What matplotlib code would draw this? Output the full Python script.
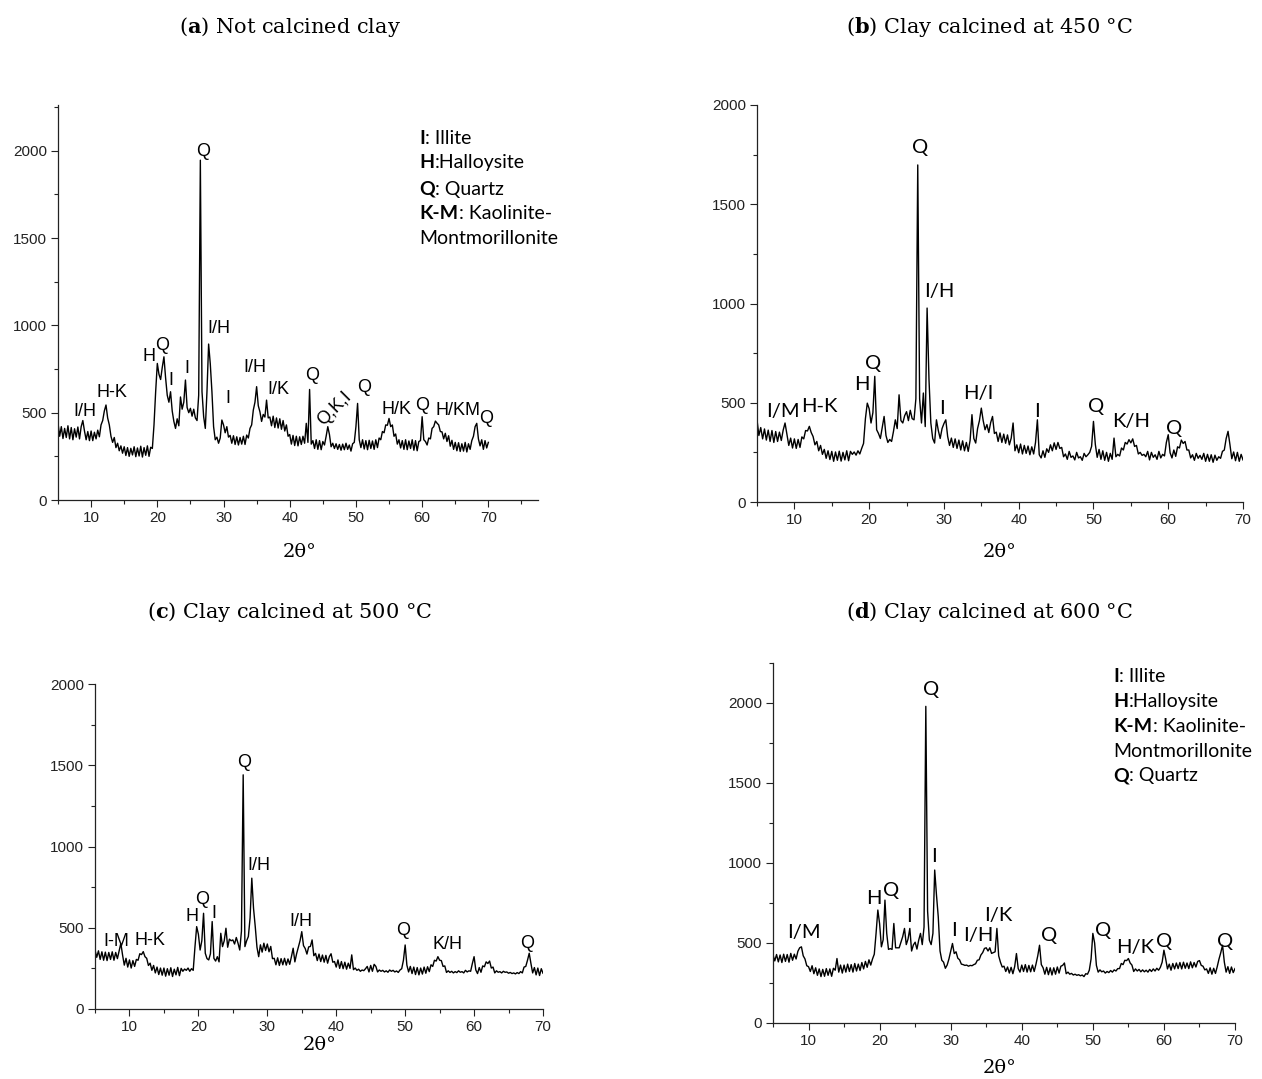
#!/usr/bin/env python3
"""XRD patterns of the clay, raw and calcined at 450/500/600 C (2x2 panels)."""
import numpy as np
import matplotlib
matplotlib.use("Agg")
import matplotlib.pyplot as plt
from matplotlib.ticker import MultipleLocator

plt.rcParams["mathtext.fontset"] = "custom"
plt.rcParams["mathtext.rm"] = "DejaVu Serif"
plt.rcParams["mathtext.bf"] = "DejaVu Serif:bold"

W, H = 1262, 1079

# 2-theta sampling, 0.25 deg steps from 5 to 70
TWO_THETA = np.arange(5, 70.001, 0.25)

# intensities (one row = 5 deg)
not_calcined = [
    440, 365, 420, 352, 410, 358, 425, 350, 415, 345, 408, 360, 418, 350, 420, 455, 395, 345, 392, 340,
    395, 340, 388, 350, 400, 362, 430, 455, 510, 544, 470, 430, 365, 330, 358, 300, 325, 282, 310, 268,
    305, 255, 300, 250, 296, 258, 305, 248, 298, 252, 308, 246, 300, 256, 310, 250, 302, 295, 430, 620,
    782, 720, 690, 760, 820, 700, 600, 560, 620, 510, 450, 410, 465, 425, 590, 520, 560, 687, 530, 500,
    525, 480, 520, 470, 455, 600, 1946, 620, 477, 410, 620, 893, 780, 620, 420, 345, 360, 325, 355, 458,
    430, 385, 420, 360, 370, 325, 368, 318, 362, 315, 358, 320, 365, 318, 372, 355, 410, 430, 515, 560,
    649, 540, 505, 450, 490, 475, 572, 470, 475, 425, 480, 415, 470, 412, 465, 405, 455, 395, 430, 365,
    375, 320, 370, 312, 365, 310, 362, 318, 365, 325, 439, 330, 633, 320, 340, 295, 345, 290, 340, 288,
    335, 315, 365, 420, 375, 305, 325, 295, 322, 290, 318, 285, 320, 288, 325, 290, 315, 280, 322, 330,
    420, 553, 345, 300, 345, 292, 340, 288, 342, 295, 338, 290, 345, 300, 355, 345, 392, 385, 430, 428,
    467, 420, 430, 365, 378, 320, 345, 298, 340, 290, 345, 288, 338, 295, 345, 285, 340, 282, 335, 340,
    477, 345, 335, 315, 355, 350, 410, 420, 452, 440, 430, 392, 390, 350, 382, 335, 368, 308, 342, 290,
    330, 282, 328, 278, 322, 280, 330, 275, 322, 290, 340, 365, 420, 439, 350, 310, 345, 290, 340, 298,
    330,
]
calcined_450 = [
    414, 335, 375, 318, 368, 312, 362, 305, 360, 300, 355, 305, 352, 310, 362, 398, 340, 285, 322, 272,
    318, 270, 315, 275, 328, 318, 360, 358, 381, 350, 330, 288, 305, 258, 285, 240, 265, 220, 258, 214,
    255, 205, 252, 210, 256, 206, 250, 212, 258, 208, 255, 240, 252, 236, 258, 242, 270, 295, 420, 498,
    470, 398, 450, 633, 364, 345, 320, 375, 431, 335, 300, 315, 305, 355, 414, 370, 540, 410, 398, 435,
    455, 410, 462, 420, 414, 520, 1698, 520, 398, 549, 380, 977, 620, 398, 320, 297, 414, 360, 320, 370,
    395, 414, 330, 285, 322, 275, 318, 270, 312, 262, 308, 258, 300, 255, 310, 440, 320, 297, 370, 410,
    473, 410, 364, 390, 350, 400, 431, 345, 352, 305, 348, 300, 342, 296, 338, 288, 322, 398, 258, 288,
    248, 292, 242, 285, 245, 282, 238, 278, 242, 300, 414, 238, 222, 258, 225, 268, 250, 288, 258, 298,
    265, 300, 270, 275, 228, 242, 215, 255, 225, 232, 212, 250, 222, 228, 210, 245, 228, 238, 250, 280,
    406, 290, 225, 265, 215, 258, 210, 250, 205, 245, 215, 322, 228, 240, 232, 272, 262, 300, 292, 314,
    298, 318, 280, 285, 242, 250, 235, 240, 228, 255, 212, 250, 225, 238, 215, 255, 222, 240, 232, 300,
    339, 248, 222, 262, 230, 278, 272, 312, 295, 305, 262, 262, 222, 238, 210, 245, 220, 235, 215, 245,
    205, 240, 205, 238, 200, 236, 210, 228, 220, 255, 262, 320, 356, 290, 218, 252, 208, 250, 205, 240,
    212,
]
calcined_500 = [
    363, 318, 358, 305, 352, 300, 350, 298, 348, 305, 352, 300, 348, 310, 358, 404, 332, 270, 312, 258,
    302, 252, 298, 262, 305, 300, 340, 335, 353, 322, 312, 268, 282, 238, 268, 222, 258, 212, 252, 208,
    252, 202, 248, 208, 254, 200, 245, 210, 256, 205, 250, 232, 246, 238, 252, 232, 248, 238, 380, 507,
    460, 363, 420, 589, 343, 310, 302, 340, 538, 312, 295, 322, 290, 466, 384, 420, 497, 380, 430, 420,
    425, 400, 440, 405, 363, 480, 1441, 384, 420, 446, 560, 805, 620, 507, 380, 322, 395, 350, 405, 360,
    400, 352, 385, 310, 312, 272, 315, 268, 310, 272, 312, 270, 308, 275, 322, 374, 290, 340, 380, 420,
    476, 390, 372, 338, 382, 385, 425, 328, 342, 298, 338, 292, 332, 288, 330, 282, 322, 340, 288, 292,
    258, 302, 250, 292, 248, 288, 245, 282, 250, 333, 242, 252, 238, 245, 232, 240, 236, 248, 262, 228,
    268, 232, 275, 262, 228, 240, 232, 238, 228, 235, 226, 240, 232, 238, 228, 234, 225, 240, 248, 300,
    394, 270, 228, 262, 218, 258, 212, 255, 210, 252, 215, 258, 220, 260, 230, 272, 262, 300, 295, 322,
    300, 298, 262, 265, 225, 235, 225, 232, 222, 230, 224, 235, 226, 230, 222, 238, 228, 235, 232, 280,
    322, 240, 218, 255, 226, 265, 260, 290, 280, 295, 252, 258, 222, 235, 226, 230, 222, 232, 226, 228,
    220, 225, 218, 222, 216, 224, 218, 230, 222, 258, 262, 300, 343, 280, 222, 255, 210, 252, 206, 248,
    220,
]
calcined_600 = [
    425, 388, 428, 382, 425, 378, 430, 385, 428, 380, 435, 392, 430, 400, 448, 470, 476, 420, 400, 358,
    352, 322, 358, 308, 345, 298, 338, 290, 335, 292, 340, 298, 338, 292, 342, 330, 403, 318, 362, 312,
    362, 318, 368, 322, 365, 318, 372, 325, 368, 328, 378, 338, 385, 348, 395, 362, 400, 430, 560, 706,
    620, 476, 520, 768, 560, 460, 465, 460, 622, 470, 470, 470, 505, 540, 591, 490, 525, 591, 450, 488,
    505, 462, 518, 560, 490, 600, 1979, 700, 518, 490, 560, 956, 800, 664, 450, 392, 380, 342, 362, 400,
    450, 497, 434, 445, 405, 395, 368, 365, 360, 362, 355, 360, 358, 365, 370, 392, 395, 425, 440, 466,
    470, 450, 470, 435, 440, 445, 591, 420, 380, 350, 355, 322, 350, 312, 348, 308, 352, 434, 340, 318,
    362, 322, 365, 318, 360, 320, 362, 322, 368, 420, 486, 365, 345, 305, 348, 302, 345, 300, 345, 305,
    350, 312, 355, 360, 375, 308, 318, 305, 310, 300, 305, 298, 302, 295, 300, 290, 308, 305, 330, 400,
    560, 500, 360, 318, 332, 320, 325, 312, 322, 315, 328, 318, 332, 325, 340, 340, 372, 365, 392, 390,
    403, 375, 362, 322, 338, 325, 335, 320, 332, 320, 330, 318, 335, 322, 338, 325, 342, 330, 348, 380,
    455, 400, 338, 368, 330, 372, 338, 375, 340, 378, 338, 380, 342, 375, 340, 382, 345, 378, 350, 385,
    390, 360, 355, 332, 338, 310, 345, 305, 342, 310, 352, 400, 440, 486, 380, 318, 352, 310, 350, 315,
    340,
]

# peak labels: (text, 2theta, intensity)
labels_a = [("I/H", 9.1, 506), ("H-K", 13.2, 614), ("H", 18.7, 820), ("Q", 20.7, 887),
            ("I", 22.1, 687), ("I", 24.4, 754), ("Q", 26.9, 1998), ("I/H", 29.3, 983),
            ("I", 30.7, 582), ("I/H", 34.7, 757), ("I/K", 38.3, 630), ("Q", 43.4, 715),
            ("Q", 51.2, 643), ("H/K", 56.2, 519), ("Q", 60.0, 544), ("H/KM", 65.4, 515),
            ("Q", 69.7, 467)]
labels_b = [("I/M", 8.5, 456), ("H-K", 13.4, 482), ("H", 19.0, 591), ("Q", 20.5, 700),
            ("Q", 26.8, 1787), ("I/H", 29.4, 1060), ("I", 29.8, 473), ("H/I", 34.6, 545),
            ("I", 42.5, 456), ("Q", 50.4, 482), ("K/H", 55.0, 406), ("Q", 60.8, 372)]
labels_c = [("I-M", 8.1, 415), ("H-K", 13.0, 421), ("H", 19.1, 569), ("Q", 20.5, 675),
            ("I", 22.3, 589), ("Q", 26.7, 1519), ("I/H", 28.75, 881), ("I/H", 34.8, 538),
            ("Q", 49.7, 482), ("K/H", 56.2, 394), ("Q", 67.7, 400)]
labels_d = [("I/M", 9.3, 564), ("H", 19.2, 779), ("Q", 21.6, 831), ("I", 24.2, 668),
            ("Q", 27.2, 2084), ("I", 27.7, 1040), ("I", 30.4, 580), ("I/H", 33.9, 549),
            ("I/K", 36.7, 674), ("Q", 43.8, 549), ("Q", 51.4, 576), ("H/K", 55.9, 470),
            ("Q", 60.0, 507), ("Q", 68.6, 507)]

key_a = [("I", ": Illite"), ("H", ":Halloysite"), ("Q", ": Quartz"),
         ("K-M", ": Kaolinite-"), ("", "Montmorillonite")]
key_d = [("I", ": Illite"), ("H", ":Halloysite"), ("K-M", ": Kaolinite-"),
         ("", "Montmorillonite"), ("Q", ": Quartz")]


def rect(l, r, t, b):
    return [l / W, 1 - b / H, (r - l) / W, (b - t) / H]


def setup_axis(ax, xmax, ymax):
    ax.set_xlim(5, xmax)
    ax.set_ylim(0, ymax)
    for s in ("top", "right"):
        ax.spines[s].set_visible(False)
    for s in ("left", "bottom"):
        ax.spines[s].set_linewidth(0.9)
        ax.spines[s].set_color("#222222")
    ax.set_xticks(range(10, 71, 10))
    ax.xaxis.set_minor_locator(MultipleLocator(5))
    ax.yaxis.set_major_locator(MultipleLocator(500))
    ax.yaxis.set_minor_locator(MultipleLocator(250))
    ax.tick_params(which="both", direction="out", color="#222222", width=0.8)
    ax.tick_params(which="major", length=5, labelsize=11, pad=3)
    ax.tick_params(which="minor", length=3)
    for lab in ax.get_xticklabels() + ax.get_yticklabels():
        lab.set_fontfamily("Liberation Sans")
        lab.set_color("#222222")


def draw_key(ax, x0, ys, entries, size):
    for (bold, rest), y in zip(entries, ys):
        if bold:
            t = ax.text(x0, y, bold, fontsize=size, fontweight="bold", family="Lato",
                        va="center", ha="left")
            ax.annotate(rest, xy=(1, 0), xycoords=t, fontsize=size, family="Lato",
                        va="bottom", ha="left")
        else:
            ax.text(x0, y, rest, fontsize=size, family="Lato", va="center", ha="left")


fig = plt.figure(figsize=(W / 100, H / 100), dpi=100)

panels = [
    (rect(58, 538, 105, 500), not_calcined, 77.5, 2262, labels_a, "Liberation Sans", 13),
    (rect(757, 1243, 105, 502), calcined_450, 70, 2000, labels_b, "Lato", 14.5),
    (rect(95, 543, 684, 1009), calcined_500, 70, 2000, labels_c, "Liberation Sans", 13),
    (rect(773, 1235, 663, 1023), calcined_600, 70, 2250, labels_d, "Lato", 14.5),
]
axes = []
for box, counts, xmax, ymax, labels, lab_font, lab_size in panels:
    ax = fig.add_axes(box)
    ax.plot(TWO_THETA, counts, color="black", lw=1.0)
    setup_axis(ax, xmax, ymax)
    for txt, x, y in labels:
        ax.text(x, y, txt, ha="center", va="center", fontsize=lab_size, family=lab_font)
    axes.append(ax)

ax_a, ax_b, ax_c, ax_d = axes
ax_a.text(46.8, 525, "Q,K,I", rotation=45, ha="center", va="center",
          fontsize=13, family="Liberation Sans", rotation_mode="anchor")
draw_key(ax_a, 59.6, [2070, 1931, 1780, 1641, 1498], key_a, 14)
draw_key(ax_d, 52.9, [2167, 2011, 1854, 1698, 1545], key_d, 14)

titles = [
    (290, 27, r"($\mathbf{a}$) Not calcined clay"),
    (990, 27, r"($\mathbf{b}$) Clay calcined at 450 °C"),
    (290, 612, r"($\mathbf{c}$) Clay calcined at 500 °C"),
    (990, 612, r"($\mathbf{d}$) Clay calcined at 600 °C"),
]
for x, y, txt in titles:
    fig.text(x / W, 1 - y / H, txt, ha="center", va="center", fontsize=15,
             family="DejaVu Serif")

for x, y in [(300, 552), (1000, 552), (320, 1045), (1000, 1068)]:
    fig.text(x / W, 1 - y / H, "2θ°", ha="center", va="center", fontsize=14,
             family="DejaVu Serif")

fig.savefig("out.png", dpi=100)
